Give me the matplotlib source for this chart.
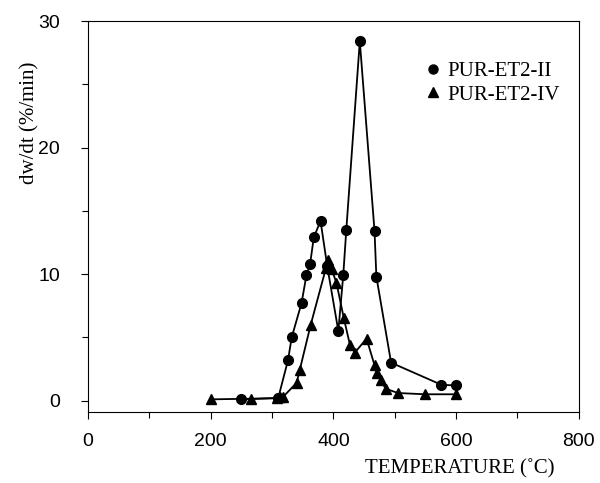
import matplotlib
matplotlib.use("Agg")
import matplotlib.pyplot as plt
from matplotlib.lines import Line2D
from matplotlib.ticker import MultipleLocator

# DTG curves, dw/dt (%/min) vs temperature (C)
temp_ii = [250, 310, 326, 332, 348, 356, 362, 368, 379, 390, 408, 416, 421, 443, 467, 470, 494, 576, 599]
rate_ii = [0.1, 0.2, 3.2, 5.0, 7.7, 9.9, 10.8, 12.9, 14.2, 10.6, 5.5, 9.9, 13.5, 28.4, 13.4, 9.8, 3.0, 1.25, 1.2]

temp_iv = [200, 265, 308, 313, 318, 340, 345, 363, 388, 391, 397, 405, 417, 427, 435, 454, 467, 471, 477, 485, 505, 550, 600]
rate_iv = [0.1, 0.15, 0.2, 0.25, 0.3, 1.4, 2.4, 6.0, 10.5, 11.1, 10.4, 9.3, 6.5, 4.4, 3.8, 4.9, 2.8, 2.2, 1.6, 0.95, 0.6, 0.5, 0.5]

labels = ["PUR-ET2-II", "PUR-ET2-IV"]

serif = ["Liberation Serif", "DejaVu Serif"]
sans = ["Liberation Sans", "DejaVu Sans"]

fig = plt.figure(figsize=(6.0, 4.83), dpi=100)
ax = fig.add_axes([0.1467, 0.147, 0.818, 0.8095])

ax.plot(temp_ii, rate_ii, color="black", lw=1.3, marker="o", ms=7)
ax.plot(temp_iv, rate_iv, color="black", lw=1.3, marker="^", ms=7)

ax.set_xlim(0, 800)
ax.set_ylim(-0.9, 30)
ax.xaxis.set_major_locator(MultipleLocator(200))
ax.xaxis.set_minor_locator(MultipleLocator(100))
ax.yaxis.set_major_locator(MultipleLocator(10))
ax.yaxis.set_minor_locator(MultipleLocator(5))
ax.tick_params(which="both", direction="out", width=0.8, colors="black")
ax.tick_params(which="major", length=5)
ax.tick_params(which="minor", length=4)
ax.tick_params(axis="x", pad=10)
ax.tick_params(axis="y", pad=15)
for lab in ax.get_xticklabels() + ax.get_yticklabels():
    lab.set_family(sans)
    lab.set_fontsize(14)
for sp in ax.spines.values():
    sp.set_linewidth(0.8)

ax.set_xlabel("TEMPERATURE (\u02daC)", family=serif, fontsize=15)
ax.xaxis.set_label_coords(0.757, -0.12)
ax.set_ylabel("dw/dt (%/min)", family=serif, fontsize=15, va="center")
ax.yaxis.set_label_coords(-0.118, 0.74)

handles = [
    Line2D([], [], color="black", marker="o", ls="none", ms=6.5),
    Line2D([], [], color="black", marker="^", ls="none", ms=6.5),
]
ax.legend(handles, labels, loc="upper right", bbox_to_anchor=(1.0, 0.945),
          frameon=False, handlelength=0.6, handletextpad=0.4, labelspacing=0.2,
          prop={"family": serif, "size": 15})

fig.savefig("out.png", dpi=100)
